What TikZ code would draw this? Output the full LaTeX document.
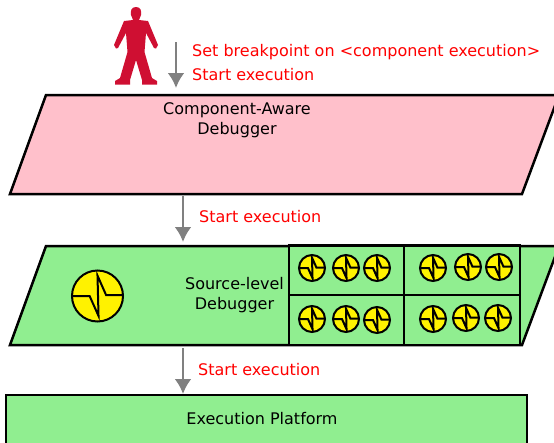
\documentclass[tikz,border=0pt]{standalone}
\usepackage{fontspec}
\setmainfont{DejaVu Sans}
\usetikzlibrary{arrows.meta,positioning,calc}
\definecolor{crimsonman}{HTML}{CF0F32}
\definecolor{panelpink}{HTML}{FFC0CB}
\definecolor{panelgreen}{HTML}{90EE90}
\definecolor{flowgray}{HTML}{808080}
\tikzset{
  lbl/.style={font=\fontsize{16}{20}\selectfont, align=center, inner sep=0pt},
  redlbl/.style={lbl, text=red, anchor=west},
  panel/.style={draw=black, line width=2.5pt, line join=miter},
  cell/.style={rectangle, draw=black, line width=2.5pt, fill=panelgreen, inner sep=0pt, outer sep=0pt},
  flow/.style={draw=flowgray, line width=2.6pt, -{Latex[length=15pt,width=17pt]}},
  pulse/.style={circle, draw=black, fill=yellow, line width=2pt, inner sep=0pt, minimum size=#1,
    path picture={\draw[black, line width=2pt, shift={(path picture bounding box.center)}, x=#1/2, y=#1/2]
      (-1,0) -- (-.31,0) -- (.04,-.78) -- (0,.8) -- (.34,.03) -- (1,.03);}},
}
\begin{document}
\begin{tikzpicture}[x=1pt,y=-1pt]
  \useasboundingbox (0,0) rectangle (554,442);
  \clip (0,0) rectangle (554,442);
  %panels
  \coordinate (cadtop) at (46,95);
  \coordinate (cadbot) at (10,194);
  \coordinate (sldtop) at (46,246);
  \coordinate (sldbot) at (10,345);
  \coordinate (plattop) at (6,395);
  \draw[panel, fill=panelpink] (cadtop) -- (559,95) -- (522,194) -- (cadbot) -- cycle;
  \draw[panel, fill=panelgreen] (sldtop) -- (559,246) -- (522,345) -- (sldbot) -- cycle;
  \draw[panel, fill=panelgreen] (plattop) -- (527,395) -- (527,460) -- (6,460) -- cycle;
  %nodes
  \node[lbl] (cadlbl) at (237,120) {Component-Aware\\Debugger};
  \node[lbl] (sldlbl) at (234.5,295) {Source-level\\Debugger};
  \node[lbl] (platlbl) at (262,419) {Execution Platform};
  \node[cell, minimum width=115pt, minimum height=50pt] (c11) at (346.5,270.5) {};
  \node[cell, minimum width=116pt, minimum height=50pt] (c12) at (462,270.5) {};
  \node[cell, minimum width=115pt, minimum height=50pt] (c21) at (346.5,320) {};
  \node[cell, minimum width=116pt, minimum height=50pt] (c22) at (462,320) {};
  \node[pulse=51pt] (bigpulse) at (97.5,296) {};
  \foreach \n/\x/\y in {a/312/268, b/346/268, c/377/268, d/433/268, e/468/267, f/499/267,
                        g/312/319, h/346/319, i/377/320, j/433/319, k/466/318, l/498/318}
    \node[pulse=26pt] (p\n) at (\x,\y) {};
  \node[redlbl] (bplbl) at (192,52) {Set breakpoint on <component execution>};
  \node[redlbl] (st1) at (192,75) {Start execution};
  \node[redlbl] (st2) at (199,217) {Start execution};
  \node[redlbl] (st3) at (198,370) {Start execution};
  %person
  \fill[crimsonman] (136,7) .. controls (131,7) and (130.5,11) .. (131,15) -- (133,20) -- (124,21)
    -- (114,45) -- (116,48.5) -- (118,48) -- (126,33) -- (127.5,52) -- (120,78) -- (115,81) -- (115,84.5) -- (130,84.5) -- (130,80)
    -- (136,60) -- (142,80) -- (142,84.5) -- (157,84.5) -- (157,81) -- (152,78) -- (144.5,52) -- (146,33)
    -- (154,48) -- (156,48.5) -- (158,45) -- (148,21) -- (139,20) -- (141,15) .. controls (141.5,11) and (141,7) .. (136,7) -- cycle;
  %edges
  \coordinate (usr) at (176,42);
  \coordinate (mid) at (183,220);
  \path[flow, shorten >=7pt] (usr) -- (usr |- cadtop);
  \path[flow, shorten <=2pt, shorten >=4pt] (mid |- cadbot) -- (mid |- sldtop);
  \path[flow, shorten <=3pt, shorten >=1pt] (mid |- sldbot) -- (mid |- plattop);
\end{tikzpicture}
\end{document}
